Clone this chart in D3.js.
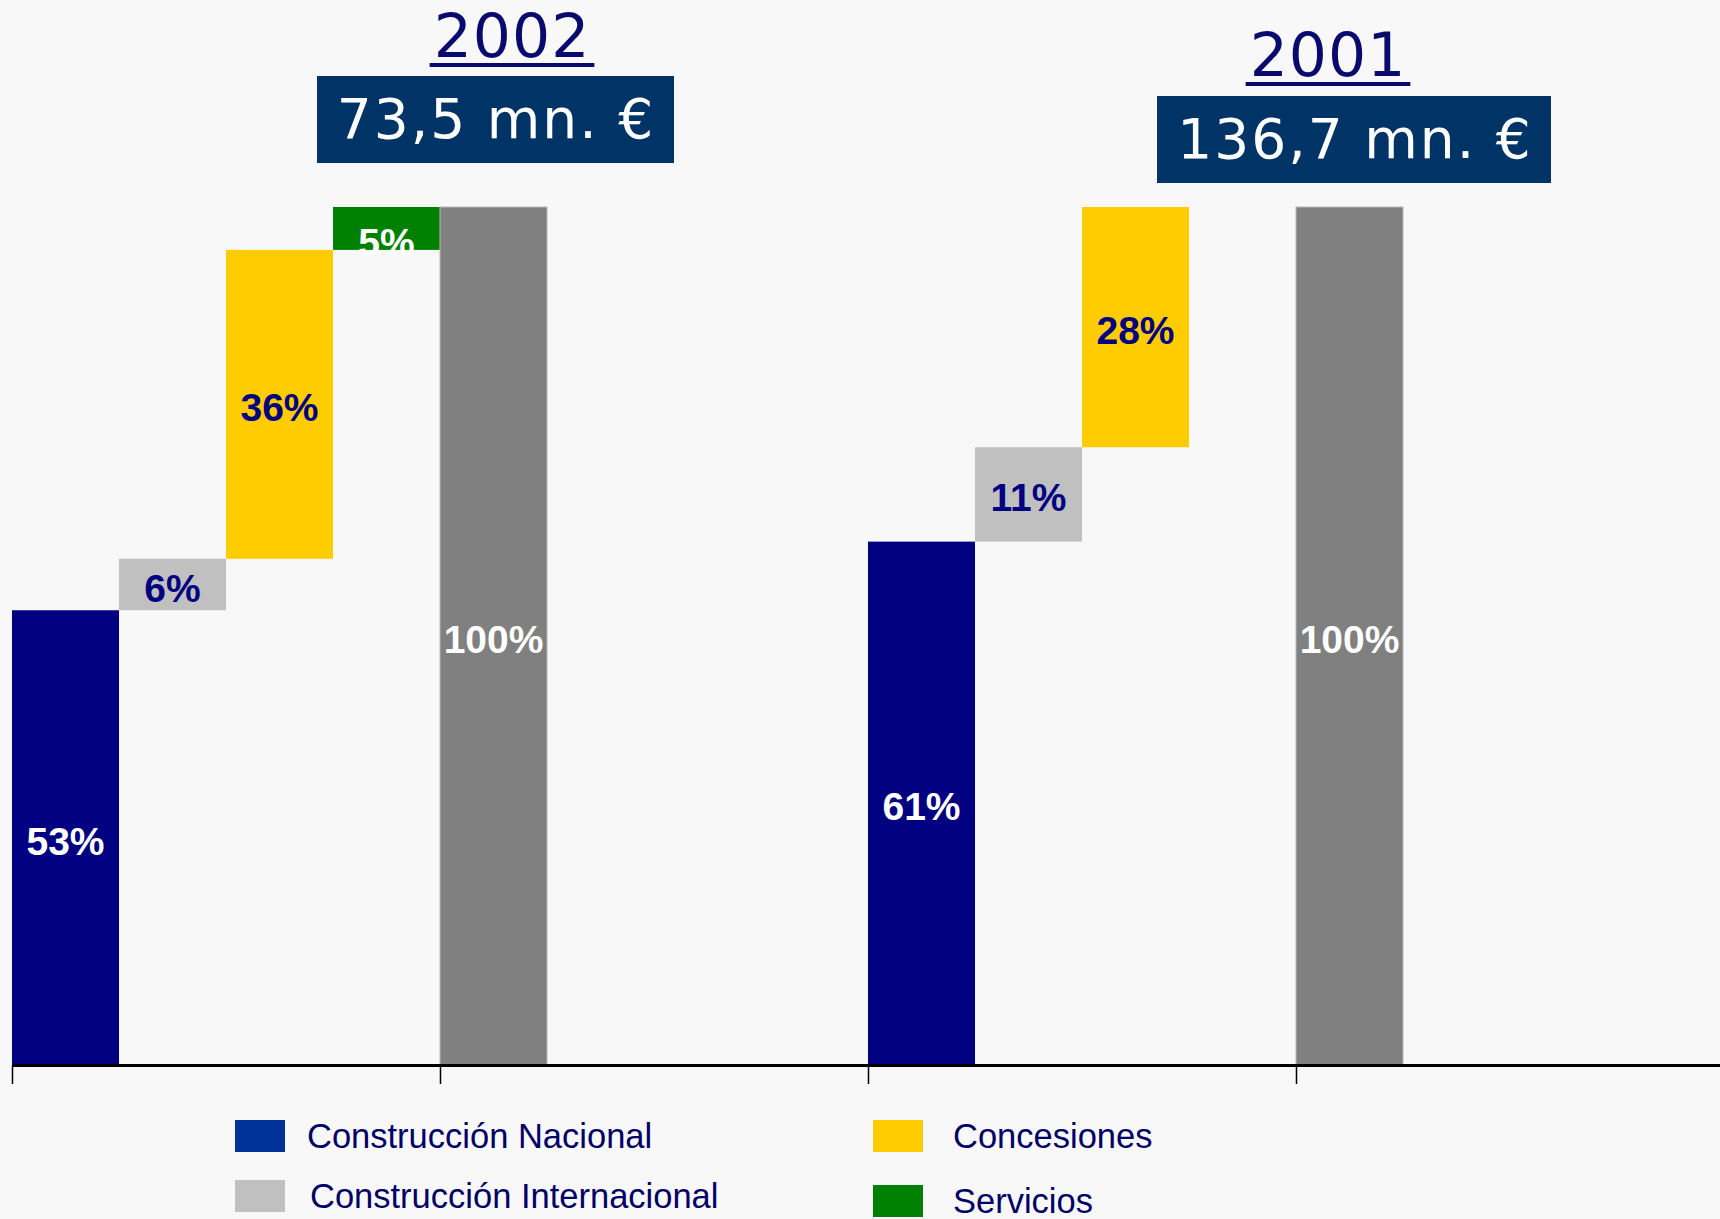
<!DOCTYPE html>
<html>
<head>
<meta charset="utf-8">
<script src="https://cdn.jsdelivr.net/npm/d3@7"></script>
<style>
  html, body { margin: 0; padding: 0; background: #f8f8f8; }
  svg { display: block; }
</style>
</head>
<body>
<svg width="1720" height="1219"></svg>
<script>
// data
var years = ['2002', '2001'];
var totals = ['73,5 mn. €', '136,7 mn. €'];
var segments = ['Construcción Nacional', 'Construcción Internacional', 'Concesiones', 'Servicios'];
var values2002 = [53, 6, 36, 5];
var values2001 = [61, 11, 28, 0];
var totalValue = 100;

var colors = ['#000080', '#c0c0c0', '#ffcc00', '#008000'];
var legendColors = ['#003399', '#c0c0c0', '#ffcc00', '#008000'];
var labelColors = ['#ffffff', '#000080', '#000080', '#ffffff'];
var totalColor = '#808080';

var svg = d3.select('svg');
svg.append('rect').attr('width', 1720).attr('height', 1219).attr('fill', '#f8f8f8');

// each year takes 8 slots: 4 segments, total, then empty room
var slotCount = 16;
var xScale = d3.scaleBand().domain(d3.range(slotCount)).range([12, 1724]).padding(0);
var slotAxis = d3.scaleLinear().domain([0, slotCount]).range([12, 1724]);
var yScale = d3.scaleLinear().domain([0, totalValue]).range([1065, 207]);

// build the waterfall pieces
var bars = [];
[values2002, values2001].forEach(function (vals, g) {
    var base = 0;
    vals.forEach(function (v, i) {
        if (v > 0) {
            bars.push({slot: g * 8 + i, y0: base, y1: base + v, fill: colors[i], label: v + '%', lc: labelColors[i]});
        }
        base += v;
    });
    bars.push({slot: g * 8 + 4, y0: 0, y1: totalValue, fill: totalColor, label: totalValue + '%', lc: '#ffffff', total: true});
});

var g = svg.append('g');

g.selectAll('.bar').
    data(bars).
    enter().append('rect').
    attr('class', 'bar').
    attr('x', function (d) { return xScale(d.slot); }).
    attr('y', function (d) { return yScale(d.y1); }).
    attr('width', xScale.bandwidth()).
    attr('height', function (d) { return yScale(d.y0) - yScale(d.y1); }).
    attr('fill', function (d) { return d.fill; }).
    attr('stroke', function (d) { return d.total ? '#b8b8b8' : 'none'; }).
    attr('stroke-width', 1);

g.selectAll('.lbl').
    data(bars).
    enter().append('text').
    attr('class', 'lbl').
    attr('x', function (d) { return xScale(d.slot) + xScale.bandwidth() / 2; }).
    attr('y', function (d) {
        var top = yScale(d.y1), bot = yScale(d.y0);
        // thin bars: label sits low like in the original
        if (bot - top < 50) return bot + 6;
        return (top + bot) / 2 + 17;
    }).
    attr('text-anchor', 'middle').
    attr('font-family', 'Liberation Sans, Arial, sans-serif').
    attr('font-weight', 'bold').
    attr('font-size', '39px').
    attr('fill', function (d) { return d.lc; }).
    text(function (d) { return d.label; });

// axis
var axis = svg.append('g').
    attr('transform', 'translate(0,1065)').
    call(d3.axisBottom(slotAxis).tickValues([0, 4, 8, 12]).tickSize(19).tickSizeOuter(0).tickFormat(''));
axis.select('.domain').attr('stroke', '#000').attr('stroke-width', 3);
axis.selectAll('.tick line').attr('stroke', '#000').attr('stroke-width', 1.5);

// year headers
var headers = [
    {year: years[0], total: totals[0], cx: 512, base: 57, box: [317, 76, 357, 87], tcx: 496, tbase: 138},
    {year: years[1], total: totals[1], cx: 1328, base: 76, box: [1157, 96, 394, 87], tcx: 1355, tbase: 158}
];
headers.forEach(function (h) {
    var t = svg.append('text').
        attr('x', h.cx).attr('y', h.base).
        attr('text-anchor', 'middle').
        attr('font-family', 'DejaVu Sans, Verdana, sans-serif').
        attr('font-size', '60px').
        attr('letter-spacing', '1px').
        attr('fill', '#0a0a6e').
        text(h.year);
    var w = t.node().getComputedTextLength();
    svg.append('rect').
        attr('x', h.cx - w / 2 - 4).attr('y', h.base + 6).
        attr('width', w + 8).attr('height', 4).
        attr('fill', '#0a0a6e');
    svg.append('rect').
        attr('x', h.box[0]).attr('y', h.box[1]).
        attr('width', h.box[2]).attr('height', h.box[3]).
        attr('fill', '#003366');
    svg.append('text').
        attr('x', h.tcx).attr('y', h.tbase).
        attr('text-anchor', 'middle').
        attr('font-family', 'DejaVu Sans, Verdana, sans-serif').
        attr('font-size', '55px').
        attr('letter-spacing', '2px').
        attr('fill', '#ffffff').
        text(h.total);
});

// legend
var legendPos = [[235, 1120], [235, 1180], [873, 1120], [873, 1185]];
var legend = svg.selectAll('.legend').
    data(segments).
    enter().append('g').
    attr('class', 'legend').
    attr('transform', function (d, i) { return 'translate(' + legendPos[i][0] + ',' + legendPos[i][1] + ')'; });
legend.append('rect').
    attr('width', 50).attr('height', 32).
    attr('fill', function (d, i) { return legendColors[i]; });
legend.append('text').
    attr('x', function (d, i) { return i < 2 ? 72 + (i == 1 ? 3 : 0) : 80; }).
    attr('y', 28).
    attr('font-family', 'Liberation Sans, Arial, sans-serif').
    attr('font-size', '34.5px').
    attr('fill', '#000066').
    text(function (d) { return d; });
</script>
</body>
</html>
